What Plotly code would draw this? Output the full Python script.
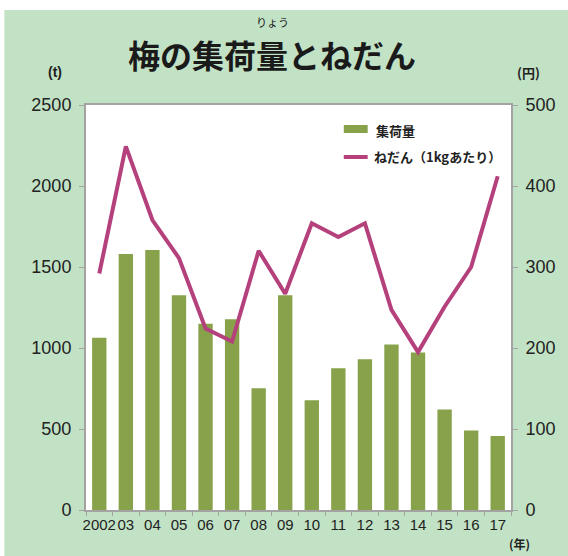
import plotly.graph_objects as go

years = ["2002", "03", "04", "05", "06", "07", "08", "09", "10", "11", "12", "13", "14", "15", "16", "17"]
shipment_t = [1063, 1580, 1605, 1325, 1150, 1178, 752, 1325, 678, 875, 930, 1022, 972, 620, 490, 457]
price_yen = [292, 449, 358, 311, 224, 208, 320, 267, 354, 337, 354, 247, 195, 251, 300, 412]
left_ticks = [0, 500, 1000, 1500, 2000, 2500]
right_ticks = [0, 100, 200, 300, 400, 500]

BG = "#c2e2c5"
BAR = "#87a24a"
LINE = "#b5417c"
AX = "#a3a3a3"
NUM = "Liberation Sans, Arial, sans-serif"
JP = "Noto Sans CJK JP, sans-serif"

fig = go.Figure()
fig.add_bar(x=years, y=shipment_t, name="集荷量", marker=dict(color=BAR, line_width=0), showlegend=False)
fig.add_scatter(x=years, y=price_yen, yaxis="y2", mode="lines", name="ねだん（1kgあたり）",
                line=dict(color=LINE, width=4), showlegend=False)

L, R, T, B = 86, 55, 105, 46
W, H = 568, 556
pw, ph = W - L - R, H - T - B

def px2x(p):
    return (p - L) / pw

def py2y(p):
    return (H - B - p) / ph

fig.update_layout(
    width=W, height=H, autosize=False,
    margin=dict(l=L, r=R, t=T, b=B),
    paper_bgcolor=BG, plot_bgcolor="white",
    bargap=0.46,
    xaxis=dict(type="category", showline=True, linecolor=AX, linewidth=2, mirror=True,
               ticks="outside", tickson="boundaries", ticklen=4, tickcolor=AX, tickangle=0,
               tickfont=dict(family="Liberation Sans Narrow, Liberation Sans, Arial", size=15, color="#222"),
               showgrid=False),
    yaxis=dict(range=[0, 2500], tickvals=left_ticks, showline=True, linecolor=AX, linewidth=2,
               ticks="outside", ticklen=5, tickcolor=AX, showgrid=False, zeroline=False,
               tickfont=dict(family=NUM, size=18, color="#222"), ticklabelstandoff=4),
    yaxis2=dict(range=[0, 500], tickvals=right_ticks, overlaying="y", side="right",
                showline=True, linecolor=AX, linewidth=2,
                ticks="outside", ticklen=5, tickcolor=AX, showgrid=False, zeroline=False,
                tickfont=dict(family=NUM, size=18, color="#222"), ticklabelstandoff=4),
    shapes=[
        dict(type="rect", xref="paper", yref="paper", x0=-0.5, x1=1.5, y0=py2y(10), y1=1.6,
             fillcolor="white", line_width=0, layer="below"),
        dict(type="rect", xref="paper", yref="paper", x0=-0.5, x1=px2x(4), y0=-0.5, y1=1.6,
             fillcolor="white", line_width=0, layer="below"),
        # legend keys
        dict(type="rect", xref="paper", yref="paper", x0=px2x(345), x1=px2x(369),
             y0=py2y(133), y1=py2y(125), fillcolor=BAR, line_width=0),
        dict(type="line", xref="paper", yref="paper", x0=px2x(345), x1=px2x(369),
             y0=py2y(157), y1=py2y(157), line=dict(color=LINE, width=4)),
    ],
    annotations=[
        dict(text="梅の集荷量とねだん", xref="paper", yref="paper", x=px2x(273), y=py2y(54),
             xanchor="center", yanchor="middle", showarrow=False,
             font=dict(family=JP, size=32, color="#1a1a1a", weight="bold")),
        dict(text="りょう", xref="paper", yref="paper", x=px2x(273), y=py2y(22),
             xanchor="center", yanchor="middle", showarrow=False,
             font=dict(family=JP, size=11, color="#1a1a1a")),
        dict(text="(t)", xref="paper", yref="paper", x=px2x(55), y=py2y(72),
             xanchor="center", yanchor="middle", showarrow=False,
             font=dict(family=NUM, size=14, color="#222", weight="bold")),
        dict(text="(円)", xref="paper", yref="paper", x=px2x(531), y=py2y(72),
             xanchor="center", yanchor="middle", showarrow=False,
             font=dict(family=JP, size=13, color="#222", weight="bold")),
        dict(text="(年)", xref="paper", yref="paper", x=px2x(522), y=py2y(543),
             xanchor="center", yanchor="middle", showarrow=False,
             font=dict(family=JP, size=12, color="#222", weight="bold")),
        dict(text="集荷量", xref="paper", yref="paper", x=px2x(375), y=py2y(130),
             xanchor="left", yanchor="middle", showarrow=False,
             font=dict(family=JP, size=13, color="#222", weight="bold")),
        dict(text="ねだん（1kgあたり）", xref="paper", yref="paper", x=px2x(373), y=py2y(156),
             xanchor="left", yanchor="middle", showarrow=False,
             font=dict(family=JP, size=13, color="#222", weight="bold")),
    ],
)

fig.write_html("out.html", config={"displayModeBar": False},
               post_script="document.body.style.margin='0';document.body.style.overflow='hidden';")
